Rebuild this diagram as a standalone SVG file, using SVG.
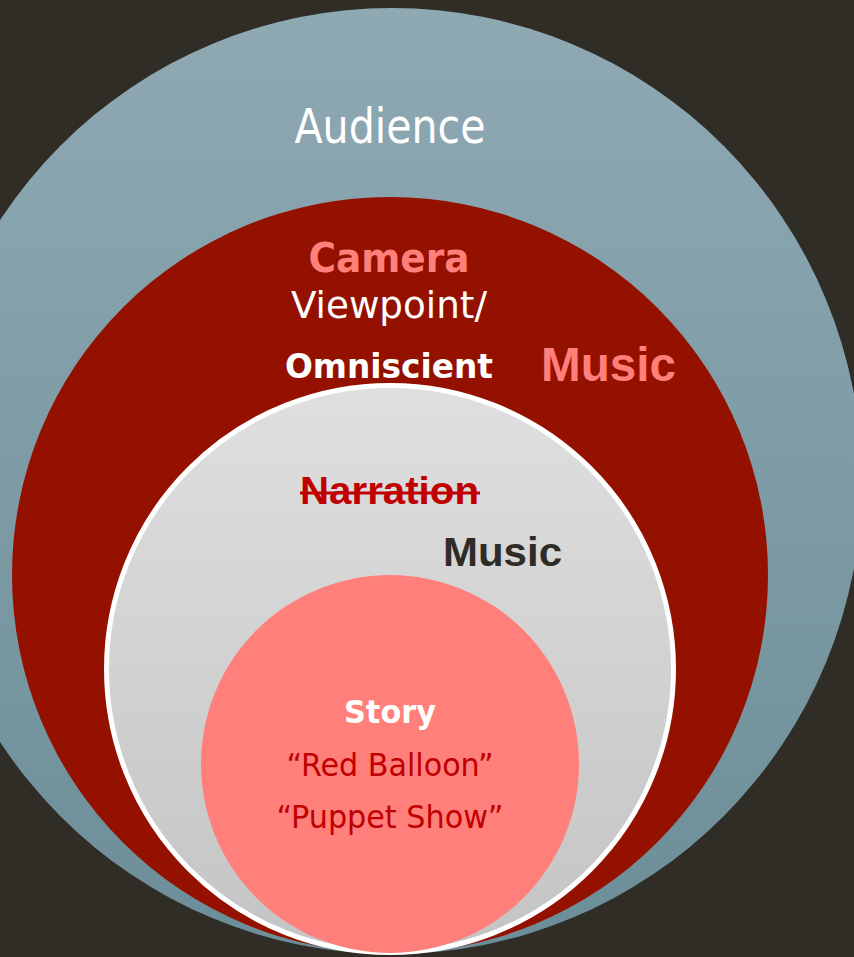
<svg xmlns="http://www.w3.org/2000/svg" width="854" height="957" viewBox="0 0 854 957">
  <defs>
    <linearGradient id="gBlue" x1="0" y1="0" x2="0" y2="1">
      <stop offset="0" stop-color="#8FA9B3"/>
      <stop offset="1" stop-color="#6C8E98"/>
    </linearGradient>
    <linearGradient id="gGray" x1="0" y1="0" x2="0" y2="1">
      <stop offset="0" stop-color="#DFDFDF"/>
      <stop offset="1" stop-color="#C4C4C4"/>
    </linearGradient>
  </defs>
  <style>
    .t { font-family: "DejaVu Sans Condensed", "DejaVu Sans", "Liberation Sans", sans-serif; font-stretch: condensed; text-anchor: middle; }
    .a { font-family: "Liberation Sans", Arial, sans-serif; font-weight: bold; }
    .b { font-weight: bold; }
    .w { fill: #FFFFFF; }
    .p { fill: #FF7F7B; }
    .r { fill: #C00000; }
  </style>
  <rect x="0" y="0" width="854" height="957" fill="#302D27"/>
  <g id="audience">
    <ellipse cx="392" cy="481" rx="470" ry="473" fill="url(#gBlue)"/>
    <text class="t w" x="390" y="143" font-size="48" textLength="191" lengthAdjust="spacingAndGlyphs">Audience</text>
  </g>
  <g id="camera">
    <circle cx="390" cy="575" r="378" fill="#941100"/>
    <text class="t b p" x="389" y="272" font-size="40" textLength="161" lengthAdjust="spacingAndGlyphs">Camera</text>
    <text class="t w" x="389" y="318" font-size="38" textLength="196" lengthAdjust="spacingAndGlyphs">Viewpoint/</text>
    <text class="t b w" x="389" y="378" font-size="34" textLength="208" lengthAdjust="spacingAndGlyphs">Omniscient</text>
    <text class="a p" x="541" y="381" font-size="48" textLength="135" lengthAdjust="spacingAndGlyphs">Music</text>
  </g>
  <g id="narration">
    <circle cx="390" cy="669" r="283.5" fill="url(#gGray)" stroke="#FFFFFF" stroke-width="5"/>
    <text class="a r" x="300" y="504" font-size="39" textLength="179" lengthAdjust="spacingAndGlyphs">Narration</text>
    <line x1="300" y1="493" x2="480" y2="493" stroke="#C00000" stroke-width="3"/>
    <text class="a" x="443" y="566" font-size="41" fill="#2F2C27" textLength="119" lengthAdjust="spacingAndGlyphs">Music</text>
  </g>
  <g id="story">
    <circle cx="390" cy="764" r="189" fill="#FF7F7B"/>
    <text class="t b w" x="390" y="723" font-size="32" textLength="92" lengthAdjust="spacingAndGlyphs">Story</text>
    <text class="t r" x="390" y="776" font-size="32" textLength="207" lengthAdjust="spacingAndGlyphs">“Red Balloon”</text>
    <text class="t r" x="390" y="828" font-size="32" textLength="227" lengthAdjust="spacingAndGlyphs">“Puppet Show”</text>
  </g>
  <g id="connectors"/>
</svg>
